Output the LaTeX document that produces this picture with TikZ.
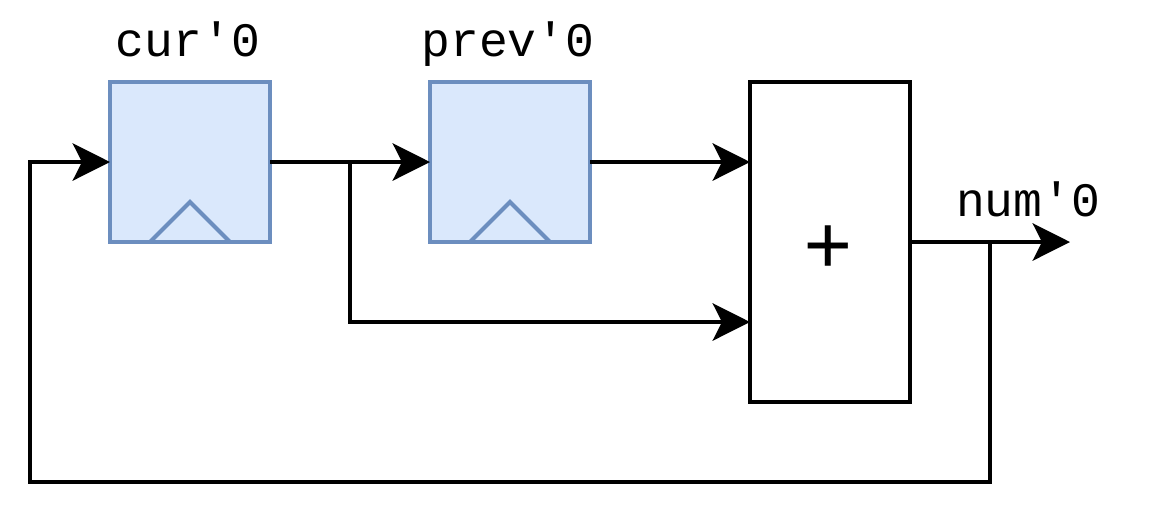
\documentclass[tikz,border=0pt]{standalone}
\usepackage{fontspec}
\setmonofont{Liberation Mono}
\usetikzlibrary{arrows.meta, positioning, calc}
\definecolor{regblue}{HTML}{DAE8FC}
\definecolor{regline}{HTML}{6C8EBF}
\tikzset{
  >={Stealth[length=28pt, width=28pt, inset=7pt]},
  regbox/.style={rectangle, draw=regline, fill=regblue, line width=3pt, minimum width=120pt, minimum height=120pt, outer sep=0pt},
  addbox/.style={rectangle, draw=black, fill=white, line width=3pt, minimum width=120pt, minimum height=240pt, outer sep=0pt, inner sep=0pt},
  lbl/.style={font=\fontsize{36}{36}\selectfont\ttfamily, inner sep=0pt, anchor=base},
  flow/.style={->, line width=3pt, draw=black, miter limit=10},
  clk/.style={draw=regline, line width=3pt},
}
\begin{document}
\begin{tikzpicture}[x=0.75pt, y=-0.75pt]
  \useasboundingbox (0,0) rectangle (1152,512);
  \node[regbox] (cur) at (190,162) {};
  \node[regbox] (prev) at (510,162) {};
  \node[addbox] (adder) at (830,242) {};
  \node[inner sep=0pt, font=\fontsize{62}{62}\selectfont\ttfamily] (plus) at (828,250) {+};
  \node[lbl] (curlbl) at (188,56) {cur'0};
  \node[lbl] (prevlbl) at (508,56) {prev'0};
  \node[lbl] (numlbl) at (1028,216) {num'0};
  \coordinate (split) at (350,162);
  \coordinate (tap) at (990,242);
  \coordinate (out) at (1070,242);
  \coordinate (in2) at (750,322);
  \coordinate (back) at (30,482);
  \foreach \r in {cur,prev}
    \draw[clk] ($(\r.south)+(-40,0)$) -- ($(\r.south)+(0,-40)$) -- ($(\r.south)+(40,0)$);
  \draw[flow] (cur.east) -- (prev.west);
  \draw[flow] (prev.east) -- (adder.west |- prev.east);
  \draw[flow] (split) |- (in2);
  \draw[flow] (adder.east) -- (out);
  \draw[flow] (tap) |- (back) |- (cur.west);
\end{tikzpicture}
\end{document}
